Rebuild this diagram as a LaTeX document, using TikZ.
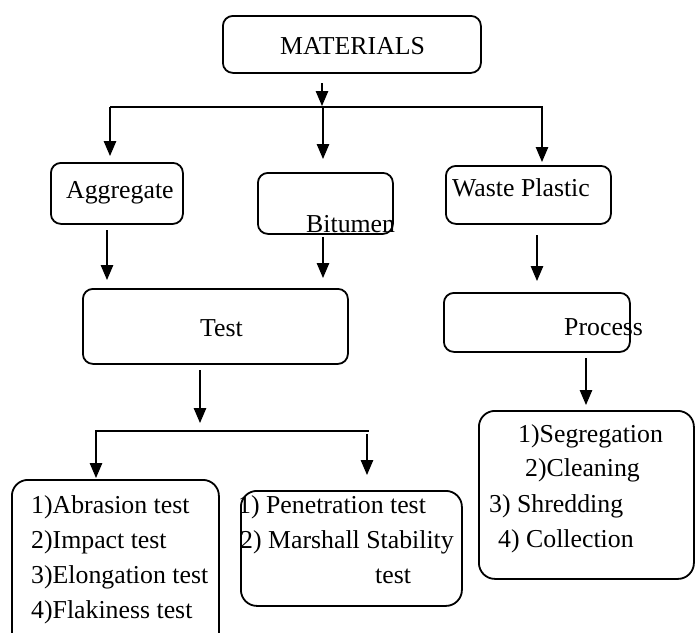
\documentclass[tikz,border=0pt]{standalone}
\usepackage{fontspec}
\setmainfont{Liberation Serif}
\usetikzlibrary{arrows.meta}
\begin{document}
\begin{tikzpicture}[x=1pt,y=-1pt,
  box/.style={draw, line width=1.8pt, rounded corners=10pt, anchor=north west, inner sep=0pt},
  bigbox/.style={box, rounded corners=16pt},
  arr/.style={-{Triangle[width=12.5pt,length=15pt]}, line width=1.1pt},
  ln/.style={line width=1.1pt},
  txt/.style={anchor=base west, inner sep=0pt, font=\fontsize{25.8}{32}\selectfont}]
\useasboundingbox (0,0) rectangle (695,632);
\clip (0,0) rectangle (695,632);
% boxes
\node[box, minimum width=258pt, minimum height=57pt] (mat) at (222,15) {};
\node[box, minimum width=132pt, minimum height=61pt] (agg) at (50,162) {};
\node[box, minimum width=135pt, minimum height=61pt] (bit) at (257,172) {};
\node[box, minimum width=165pt, minimum height=58pt] (wp) at (445,165) {};
\node[box, minimum width=265pt, minimum height=75pt] (test) at (82,288) {};
\node[box, minimum width=186pt, minimum height=59pt] (proc) at (443,292) {};
\node[bigbox, minimum width=207pt, minimum height=175pt] (ab) at (11,479) {};
\node[bigbox, minimum width=221pt, minimum height=115pt] (pen) at (240,490) {};
\node[bigbox, minimum width=215pt, minimum height=168pt] (coll) at (478,410) {};
% texts
\node[txt] (tmat) at (280,54) {MATERIALS};
\node[txt] (tagg) at (66,198) {Aggregate};
\node[txt] (tbit) at (306,232) {Bitumen};
\node[txt] (twp) at (452,196) {Waste Plastic};
\node[txt] (ttest) at (200,336) {Test};
\node[txt] (tproc) at (564,335) {Process};
\node[txt] (ab1) at (31,513) {1)Abrasion test};
\node[txt] (ab2) at (31,548) {2)Impact test};
\node[txt] (ab3) at (31,583) {3)Elongation test};
\node[txt] (ab4) at (31,618) {4)Flakiness test};
\node[txt] (pen1) at (238,513) {1) Penetration test};
\node[txt] (pen2) at (240,548) {2) Marshall Stability};
\node[txt] (pen3) at (375,583) {test};
\node[txt] (c1) at (518,442) {1)Segregation};
\node[txt] (c2) at (525,476) {2)Cleaning};
\node[txt] (c3) at (489,512) {3) Shredding};
\node[txt] (c4) at (498,547) {4) Collection};
% connector coordinates
\coordinate (a0s) at (322,83);  \coordinate (a0e) at (322,106);
\coordinate (h1l) at (110,107); \coordinate (h1r) at (543,107);
\coordinate (m1s) at (323,107); \coordinate (r1s) at (542,107);
\coordinate (l1e) at (110,156); \coordinate (m1e) at (323,159); \coordinate (r1e) at (542,162);
\coordinate (l2s) at (107,230); \coordinate (l2e) at (107,280);
\coordinate (m2s) at (323,237); \coordinate (m2e) at (323,278);
\coordinate (r2s) at (537,235); \coordinate (r2e) at (537,281);
\coordinate (t3s) at (200,370); \coordinate (t3e) at (200,423);
\coordinate (h2l) at (95,431);  \coordinate (h2r) at (369,431);
\coordinate (l4s) at (96,431);  \coordinate (l4e) at (96,478);
\coordinate (r4s) at (367,434); \coordinate (r4e) at (367,475);
\coordinate (p3s) at (586,358); \coordinate (p3e) at (586,405);
% connectors
\draw[arr] (a0s) -- (a0e);
\draw[ln] (h1l) -- (h1r);
\draw[arr] (h1l) -- (l1e);
\draw[arr] (m1s) -- (m1e);
\draw[arr] (r1s) -- (r1e);
\draw[arr] (l2s) -- (l2e);
\draw[arr] (m2s) -- (m2e);
\draw[arr] (r2s) -- (r2e);
\draw[arr] (t3s) -- (t3e);
\draw[ln] (h2l) -- (h2r);
\draw[arr] (l4s) -- (l4e);
\draw[arr] (r4s) -- (r4e);
\draw[arr] (p3s) -- (p3e);
\end{tikzpicture}
\end{document}
